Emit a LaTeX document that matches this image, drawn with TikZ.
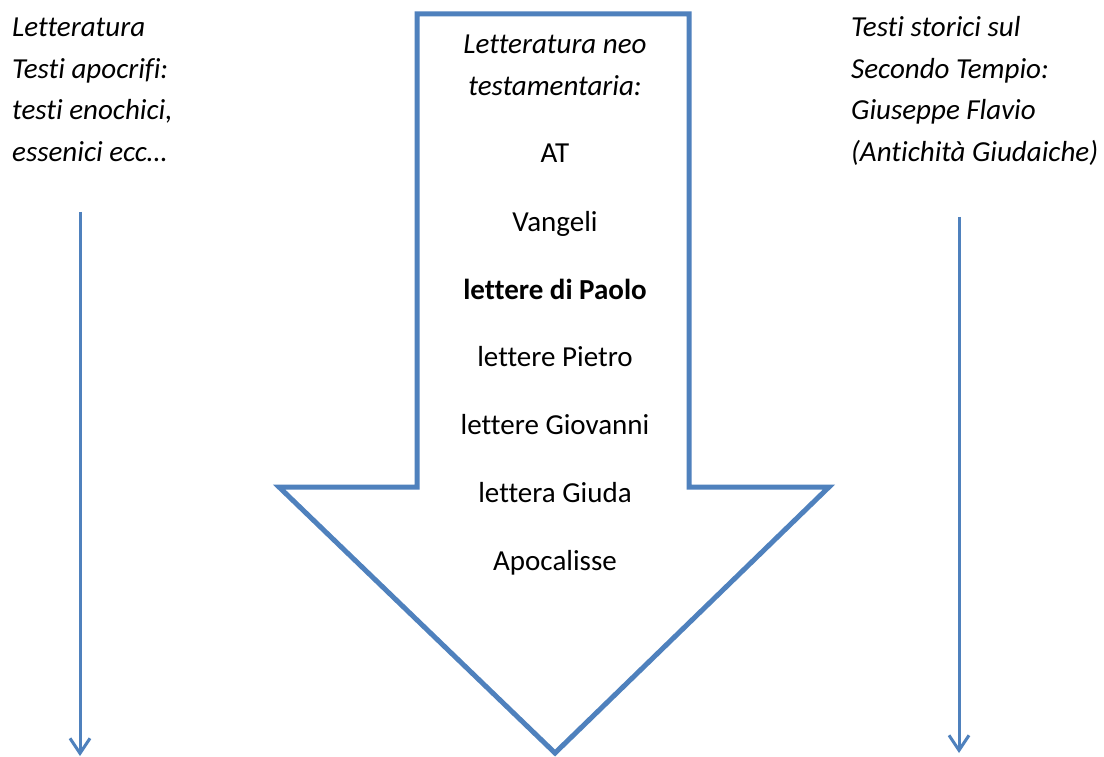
\documentclass[tikz,border=0pt]{standalone}
\usepackage{fontspec}
\setmainfont{Carlito}[RawFeature=-liga]
\usetikzlibrary{arrows.meta}
\definecolor{officeblue}{RGB}{79,129,189}
\tikzset{
  txt/.style={inner sep=0pt, font=\fontsize{29}{42}\selectfont},
  side/.style={txt, align=left, anchor=base west, font=\fontsize{29}{42}\selectfont\itshape},
  item/.style={txt, anchor=base},
  thinarrow/.style={draw=officeblue, line width=3pt, -{Straight Barb[length=15pt,width=20pt,line width=3pt]}},
  bigarrow/.style={draw=officeblue, line width=5pt, line join=miter}
}
\begin{document}
\begin{tikzpicture}[x=1pt,y=-1pt]
\useasboundingbox (0,0) rectangle (1104,757);
\fill[white] (0,0) rectangle (1104,757);
% big arrow
\draw[bigarrow] (417,14) -- (689,14) -- (689,487) -- (829,487) -- (555,753) -- (279,487) -- (417,487) -- cycle;
% side texts (anchor = baseline of last line)
\node[side] (left) at (12,162) {Letteratura\\Testi apocrifi:\\testi enochici,\\essenici ecc\dots};
\node[side] (right) at (851,162) {Testi storici sul\\Secondo Tempio:\\Giuseppe Flavio\\(Antichità Giudaiche)};
% centre texts
\node[item, font=\fontsize{29}{42}\selectfont\itshape, align=center] (title) at (555,96) {Letteratura neo\\testamentaria:};
\node[item] (at) at (555,163) {AT};
\node[item] (vang) at (555,231) {Vangeli};
\node[item, font=\fontsize{29}{42}\selectfont\bfseries] (paolo) at (555,299) {lettere di Paolo};
\node[item] (pietro) at (555,366) {lettere Pietro};
\node[item] (giov) at (555,434) {lettere Giovanni};
\node[item] (giuda) at (555,502) {lettera Giuda};
\node[item] (apoc) at (555,570) {Apocalisse};
% thin arrows
\coordinate (ltop) at (80,212);
\coordinate (lbot) at (80,756);
\coordinate (rtop) at (959,217);
\coordinate (rbot) at (959,753);
\draw[thinarrow] (ltop) -- (lbot);
\draw[thinarrow] (rtop) -- (rbot);
\end{tikzpicture}
\end{document}
